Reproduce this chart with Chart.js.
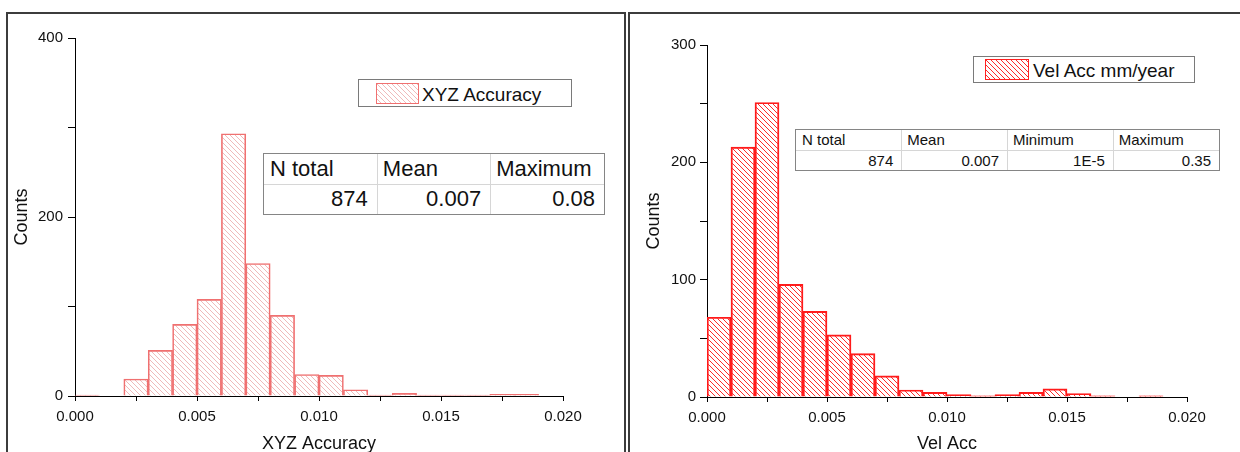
<!DOCTYPE html>
<html>
<head>
<meta charset="utf-8">
<script src="https://cdn.jsdelivr.net/npm/chart.js@4.4.1/dist/chart.umd.min.js"></script>
<style>
  html, body { margin: 0; padding: 0; background: #fff; overflow: hidden; }
  body { width: 1240px; height: 452px; position: relative; font-family: "Liberation Sans", Arial, sans-serif; color: #111; }
  .panel { position: absolute; top: 12px; height: 480px; border: 2px solid #3c3c3c; box-sizing: border-box; }
  canvas { position: absolute; top: 0; }
  .legend { position: absolute; background: #fff; border: 1px solid #7a7a7a; box-sizing: border-box; }
  .legend .swatch { position: absolute; box-sizing: border-box; }
  .legend span { position: absolute; white-space: nowrap; line-height: 1; }
  .stats { position: absolute; border: 1px solid #858585; box-sizing: border-box; background: #fff; }
  .stats table { width: 100%; height: 100%; border-collapse: collapse; table-layout: fixed; }
  .stats td { border-right: 1px solid #d6d6d6; border-bottom: 1px solid #d6d6d6; padding: 0; white-space: nowrap; overflow: hidden; }
  .stats td:last-child { border-right: none; }
  .stats tr:last-child td { border-bottom: none; }
  .stats tr.head td { text-align: left; }
  .stats tr.vals td { text-align: right; }
</style>
</head>
<body>

<div class="panel" style="left:6px; width:620px;"></div>
<div class="panel" style="left:628px; width:620px; border-right:none;"></div>

<canvas id="xyzChart" width="625" height="470" style="left:0px;"></canvas>
<canvas id="velChart" width="611" height="470" style="left:629px;"></canvas>

<!-- left legend + stats -->
<div class="legend" style="left:358px; top:79px; width:214px; height:28px;">
  <div class="swatch" id="xyzSwatch" style="left:17px; top:3px; width:43px; height:21px; border:1px solid #f07070;"></div>
  <span style="left:63px; top:5px; font-size:19px;">XYZ Accuracy</span>
</div>
<div class="stats" style="left:263px; top:153px; width:342px; height:62px; font-size:22px;">
  <table>
    <tr class="head"><td style="padding-left:6px">N total</td><td style="padding-left:5px">Mean</td><td style="padding-left:5px">Maximum</td></tr>
    <tr class="vals"><td style="padding-right:9px">874</td><td style="padding-right:9px">0.007</td><td style="padding-right:9px">0.08</td></tr>
  </table>
</div>

<!-- right legend + stats -->
<div class="legend" style="left:973px; top:56px; width:222px; height:27px;">
  <div class="swatch" id="velSwatch" style="left:11px; top:2px; width:44px; height:21px; border:1px solid #ff2020;"></div>
  <span style="left:59px; top:4px; font-size:19px;">Vel Acc mm/year</span>
</div>
<div class="stats" style="left:795px; top:129px; width:425px; height:42px; font-size:15px;">
  <table>
    <tr class="head"><td style="padding-left:6px">N total</td><td style="padding-left:5px">Mean</td><td style="padding-left:5px">Minimum</td><td style="padding-left:5px">Maximum</td></tr>
    <tr class="vals"><td style="padding-right:8px">874</td><td style="padding-right:8px">0.007</td><td style="padding-right:8px">1E-5</td><td style="padding-right:8px">0.35</td></tr>
  </table>
</div>

<script>
// bins are 0.001 wide, starting at these values
const binStarts = [0.000, 0.001, 0.002, 0.003, 0.004, 0.005, 0.006, 0.007, 0.008, 0.009,
                   0.010, 0.011, 0.012, 0.013, 0.014, 0.015, 0.016, 0.017, 0.018];
const binWidth = 0.001;

const xyzCounts = [1, 0, 19, 51, 80, 108, 293, 148, 90, 24, 23, 7, 1, 3, 1, 1, 1, 2, 2];
const velCounts = [68, 213, 251, 96, 73, 53, 37, 18, 6, 4, 2, 1, 2, 4, 7, 3, 1, 0, 1];

const xTickLabels = ["0.000", "0.005", "0.010", "0.015", "0.020"];
const xyzYLabels = [0, 200, 400];
const velYLabels = [0, 100, 200, 300];

Chart.defaults.font.family = "'Liberation Sans', Arial, sans-serif";
Chart.defaults.color = "#111";

// diagonal "\" hatch tile
function hatchTile(color, size, width) {
  const c = document.createElement("canvas");
  c.width = size;
  c.height = size;
  const g = c.getContext("2d");
  g.strokeStyle = color;
  g.lineWidth = width;
  g.beginPath();
  g.moveTo(0, 0); g.lineTo(size, size);
  g.moveTo(-1, size - 1); g.lineTo(1, size + 1);
  g.moveTo(size - 1, -1); g.lineTo(size + 1, 1);
  g.stroke();
  return c;
}

const xyzTile = hatchTile("rgba(226,130,130,0.55)", 5, 1);
const velTile = hatchTile("#ff2a2a", 5, 1);
document.getElementById("xyzSwatch").style.backgroundImage = "url(" + xyzTile.toDataURL() + ")";
document.getElementById("velSwatch").style.backgroundImage = "url(" + velTile.toDataURL() + ")";

function histogram(id, counts, o) {
  const ctx = document.getElementById(id);
  const pattern = ctx.getContext("2d").createPattern(o.tile, "repeat");

  new Chart(ctx, {
    type: "bar",
    data: {
      datasets: [
        {
          label: o.label,
          data: binStarts.map((b, i) => ({ x: b + binWidth / 2, y: counts[i] })),
          backgroundColor: pattern,
          borderColor: o.border,
          borderWidth: o.borderWidth,
          barPercentage: 1,
          categoryPercentage: 1,
        },
      ],
    },
    options: {
      responsive: false,
      animation: false,
      layout: { padding: o.padding },
      plugins: { legend: { display: false }, tooltip: { enabled: false } },
      scales: {
        x: {
          type: "linear",
          min: 0,
          max: 0.02,
          offset: false,
          afterBuildTicks: (s) => {
            s.ticks = [];
            for (let i = 0; i <= 8; i++) s.ticks.push({ value: i * 0.0025 });
          },
          afterFit: (s) => { s.height = o.xHeight; },
          grid: { offset: false, drawOnChartArea: false, drawTicks: true, tickLength: 5, tickColor: "#000" },
          border: { display: true, color: "#000", width: 1 },
          ticks: {
            padding: 7,
            maxRotation: 0,
            autoSkip: false,
            font: { size: 15 },
            callback: (v, i) => (i % 2 === 0 ? xTickLabels[i / 2] : ""),
          },
          title: { display: true, text: o.xTitle, font: { size: 18 }, padding: { top: 0, bottom: 15 } },
        },
        y: {
          min: 0,
          max: o.yMax,
          afterBuildTicks: (s) => {
            s.ticks = [];
            for (let v = 0; v <= o.yMax; v += o.yMinor) s.ticks.push({ value: v });
          },
          afterFit: (s) => { s.width = o.yWidth; },
          grid: { drawOnChartArea: false, drawTicks: true, tickLength: 7, tickColor: "#000" },
          border: { display: true, color: "#000", width: 1 },
          ticks: {
            padding: o.yPad,
            autoSkip: false,
            font: { size: 15 },
            callback: (v) => (o.yLabels.includes(v) ? String(v) : ""),
          },
          title: { display: true, text: "Counts", font: { size: 18 }, padding: { top: o.yTitlePad, bottom: 0 } },
        },
      },
    },
  });
}

histogram("xyzChart", xyzCounts, {
  label: "XYZ Accuracy",
  tile: xyzTile,
  border: "#f07070",
  borderWidth: 1,
  xTitle: "XYZ Accuracy",
  yMax: 400,
  yMinor: 100,
  yLabels: xyzYLabels,
  padding: { top: 38, right: 62, left: 0, bottom: 0 },
  xHeight: 74,
  yWidth: 75,
  yPad: 5,
  yTitlePad: 11,
});

histogram("velChart", velCounts, {
  label: "Vel Acc mm/year",
  tile: velTile,
  border: "#ff1a1a",
  borderWidth: 1.3,
  xTitle: "Vel Acc",
  yMax: 300,
  yMinor: 50,
  yLabels: velYLabels,
  padding: { top: 45, right: 53, left: 0, bottom: 0 },
  xHeight: 73,
  yWidth: 78,
  yPad: 4,
  yTitlePad: 14,
});
</script>
</body>
</html>
